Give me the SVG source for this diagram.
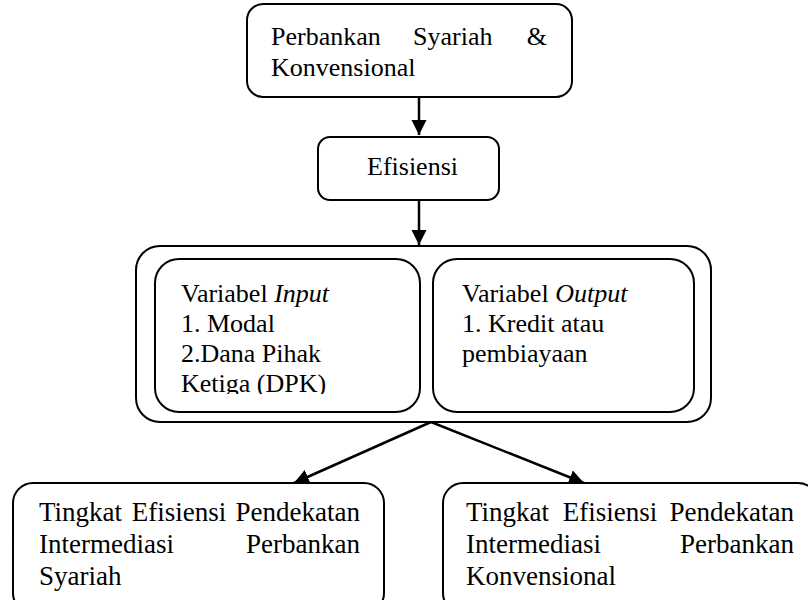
<svg xmlns="http://www.w3.org/2000/svg" width="808" height="600" viewBox="0 0 808 600">
<style>
.box{fill:#fff;stroke:#000;stroke-width:2}
.t{font-family:'Liberation Serif','Times New Roman',serif;font-size:26px;fill:#000}
.b{font-size:27px}
.i{font-style:italic}
.conn{stroke:#000;stroke-width:2.5;fill:none}
</style>
<defs>
<marker id="ah" markerUnits="userSpaceOnUse" markerWidth="16" markerHeight="16" viewBox="0 0 16 16" refX="15" refY="8" orient="auto">
<path d="M0,0.5 L15,8 L0,15.5 Z" fill="#000"/>
</marker>
<clipPath id="clipIn"><rect x="150" y="255" width="275" height="139"/></clipPath>
</defs>
<rect width="808" height="600" fill="#fff"/>
<g id="connectors">
<line class="conn" x1="419" y1="97" x2="419" y2="135" marker-end="url(#ah)"/>
<line class="conn" x1="419" y1="200" x2="419" y2="245" marker-end="url(#ah)"/>
<line class="conn" x1="431" y1="422" x2="294" y2="483" marker-end="url(#ah)"/>
<line class="conn" x1="431" y1="422" x2="584" y2="483" marker-end="url(#ah)"/>
</g>
<g id="node-top">
<rect class="box" x="247" y="4" width="325" height="93" rx="16"/>
<text class="t" x="271" y="45">Perbankan</text>
<text class="t" x="413" y="45">Syariah</text>
<text class="t" x="547" y="45" text-anchor="end">&amp;</text>
<text class="t" x="271" y="76">Konvensional</text>
</g>
<g id="node-efisiensi">
<rect class="box" x="318" y="137" width="181" height="63" rx="12"/>
<text class="t" x="367" y="175">Efisiensi</text>
</g>
<g id="node-variabel">
<rect class="box" x="136" y="246" width="575" height="176" rx="24"/>
<g id="node-input">
<rect class="box" x="155" y="259" width="265" height="153" rx="24"/>
<g clip-path="url(#clipIn)">
<text class="t" x="181" y="302">Variabel <tspan class="i">Input</tspan></text>
<text class="t" x="181" y="332">1. Modal</text>
<text class="t" x="181" y="362">2.Dana Pihak</text>
<text class="t" x="181" y="392">Ketiga (DPK)</text>
</g>
</g>
<g id="node-output">
<rect class="box" x="433" y="259" width="261" height="153" rx="24"/>
<text class="t" x="462" y="302">Variabel <tspan class="i">Output</tspan></text>
<text class="t" x="462" y="332">1. Kredit atau</text>
<text class="t" x="462" y="362">pembiayaan</text>
</g>
</g>
<g id="node-syariah">
<rect class="box" x="13" y="483" width="371" height="130" rx="20"/>
<text class="t b" x="39" y="521">Tingkat</text>
<text class="t b" x="179" y="521" text-anchor="middle">Efisiensi</text>
<text class="t b" x="360" y="521" text-anchor="end">Pendekatan</text>
<text class="t b" x="39" y="553">Intermediasi</text>
<text class="t b" x="360" y="553" text-anchor="end">Perbankan</text>
<text class="t b" x="39" y="585">Syariah</text>
</g>
<g id="node-konvensional">
<rect class="box" x="443" y="483" width="375" height="130" rx="20"/>
<text class="t b" x="466" y="521">Tingkat</text>
<text class="t b" x="610" y="521" text-anchor="middle">Efisiensi</text>
<text class="t b" x="794" y="521" text-anchor="end">Pendekatan</text>
<text class="t b" x="466" y="553">Intermediasi</text>
<text class="t b" x="794" y="553" text-anchor="end">Perbankan</text>
<text class="t b" x="466" y="585">Konvensional</text>
</g>
</svg>
